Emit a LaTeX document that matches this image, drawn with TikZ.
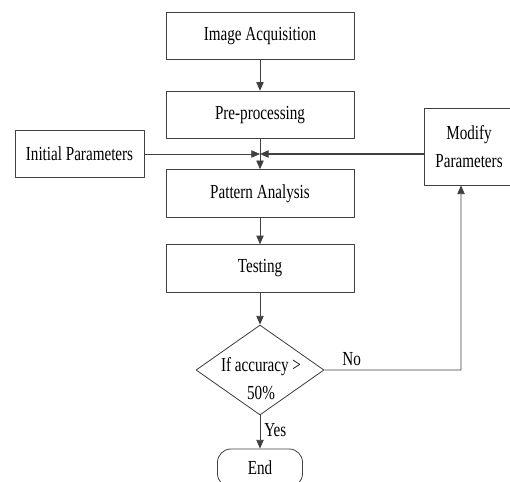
\documentclass[tikz,border=0pt]{standalone}
\usepackage{fontspec}
\setmainfont{Liberation Serif}[FakeStretch=0.76]
\usetikzlibrary{arrows.meta,shapes.geometric}
\tikzset{
	blk/.style={draw=black!75, line width=0.7pt, minimum width=5.64cm, minimum height=1.43cm, inner sep=0pt},
	dec/.style={draw=black!75, line width=0.7pt, diamond, minimum width=3.84cm, minimum height=2.7cm, inner sep=0pt},
	lbl/.style={align=center, font=\fontsize{17}{23.8}\selectfont}
}
\begin{document}
\begin{tikzpicture}[x=0.03cm, y=-0.03cm, font=\fontsize{17}{23.8}\selectfont, line join=round, >={Triangle[length=2.6mm, width=2.2mm]}, line width=0.7pt, draw=black!75]
			\useasboundingbox (0,0) rectangle (510,481);
			\clip (0,0) rectangle (510,481);
			\node[blk] (acq) at (260,36) {Image Acquisition};
			\node[blk] (pre) at (260,115) {Pre-processing};
			\node[blk] (pat) at (260,193.5) {Pattern Analysis};
			\node[blk] (tst) at (260,268.5) {Testing};
			\node[blk, minimum width=3.87cm, minimum height=1.41cm] (init) at (79.5,154) {Initial Parameters};
			\node[blk, lbl, minimum width=2.7cm, minimum height=2.31cm] (mod) at (469,146.5) {Modify\\Parameters};
			\node[dec] (dec) at (260,370) {};
			\node[lbl] (cond) at (261,379) {If accuracy >\\50\%};
			\node[blk, minimum width=2.55cm, minimum height=1.14cm, rounded corners=0.4cm] (end) at (260,468) {End};
			\coordinate (j) at (260,154);
			\draw[->] (acq) -- (pre);
			\draw[->] (pre) -- (pat);
			\draw[->] (tst) -- (dec);
			\draw[->] (pat) -- (tst);
			\draw[->] (dec) -- (end) node[pos=0.45, right] (yes) {Yes};
			\draw[->] (init) -- (j);
			\draw[->, line width=1.1pt] (j -| mod.west) -- (j);
			\draw[->] (dec.east) -- node[pos=0.2, above] (no) {No} (dec.east -| 461,0) -- ([xshift=-0.24cm]mod.south);
		\end{tikzpicture}
\end{document}
